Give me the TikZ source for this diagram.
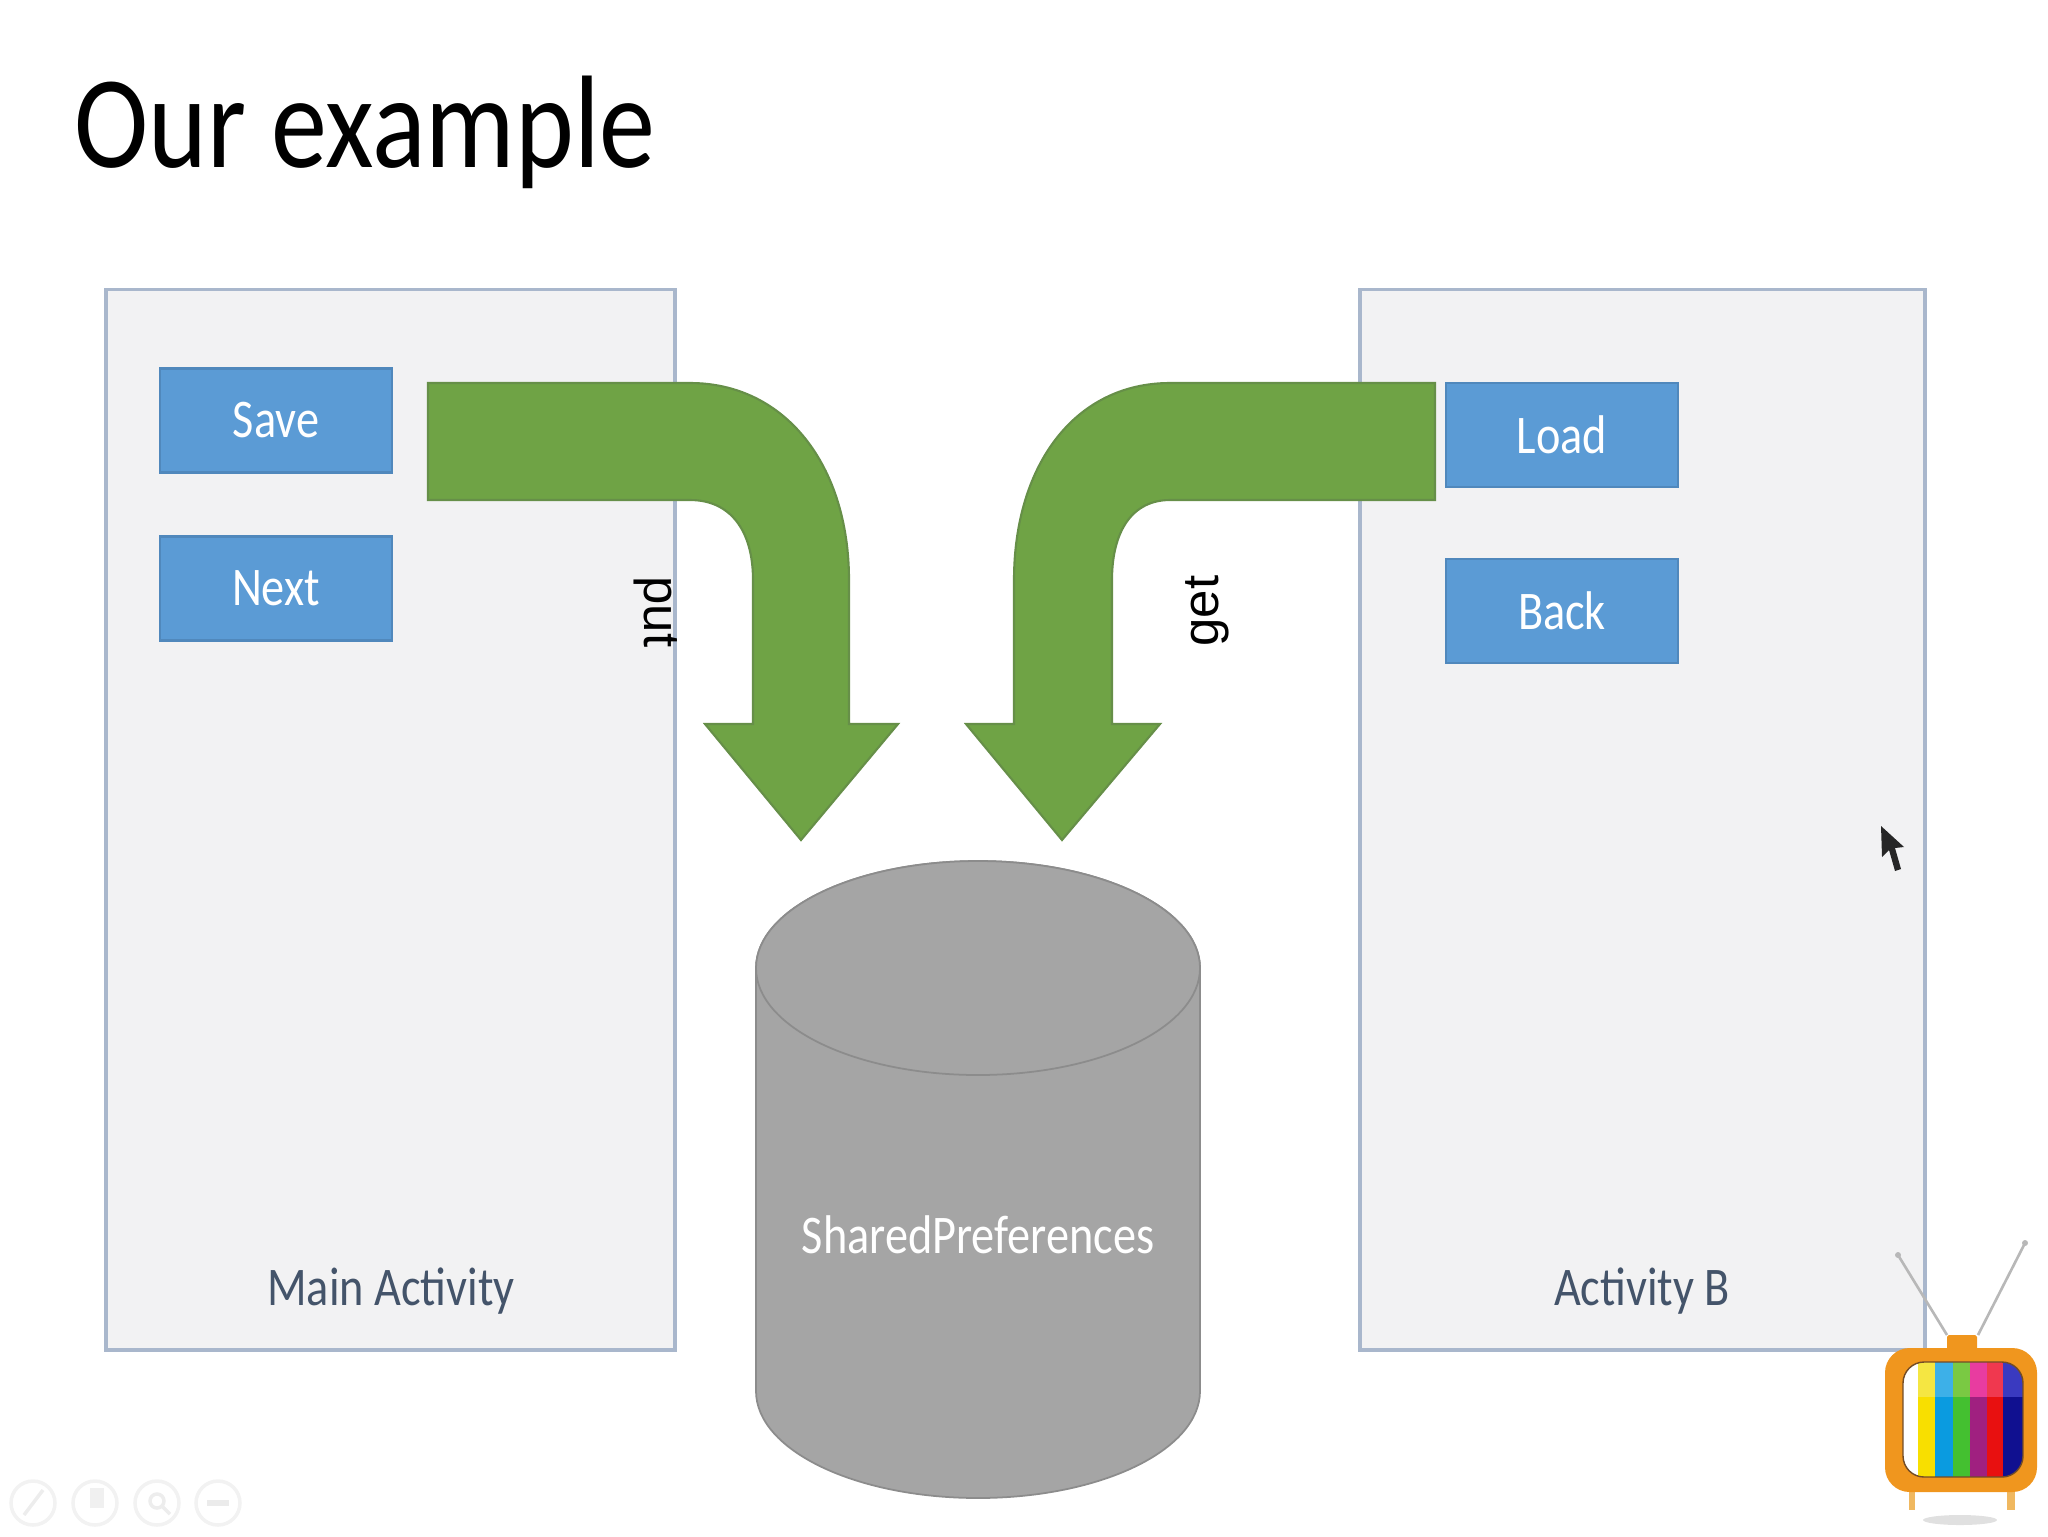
\documentclass[tikz,border=0pt]{standalone}
\usepackage{fontspec}
\setmainfont{Carlito}
\newfontfamily\labelfont{Liberation Sans}
\newcommand{\narrowed}[1]{\scalebox{.85}[1]{#1}}
\definecolor{panelfill}{HTML}{F2F2F3}
\definecolor{panelline}{HTML}{A9B7CC}
\definecolor{btnfill}{HTML}{5B9BD5}
\definecolor{btnline}{HTML}{5088BC}
\definecolor{arrowgreen}{HTML}{6FA345}
\definecolor{arrowline}{HTML}{668F48}
\definecolor{dbfill}{HTML}{A5A5A5}
\definecolor{dbline}{HTML}{8C8C8C}
\definecolor{captext}{HTML}{44546A}
\definecolor{tvorange}{HTML}{F0961E}
\definecolor{tvlegs}{HTML}{F0B860}
\tikzset{
  panel/.style={draw=panelline,fill=panelfill,line width=1.8pt,minimum height=21.22cm},
  btn/.style={draw=btnline,fill=btnfill,line width=1.2pt,minimum width=4.64cm,minimum height=2.08cm,
    text=white,font=\fontsize{31}{34}\selectfont},
  captiontext/.style={text=captext,font=\fontsize{31}{34}\selectfont},
  bigarrow/.style={fill=arrowgreen,draw=arrowline,line width=1.2pt},
  rotlabel/.style={font=\fontsize{29}{32}\selectfont\labelfont,text=black},
  toolring/.style={draw=black!5,line width=2pt},
}
\begin{document}
\begin{tikzpicture}[x=0.02cm,y=-0.02cm]
\useasboundingbox (0,0) rectangle (2048,1536);
\node[font=\fontsize{75}{80}\selectfont,text=black,anchor=base west,inner sep=0pt] (title) at (74,167) {\narrowed{Our example}};
% activities
\node[panel,minimum width=11.38cm] (mainpanel) at (390.5,819.5) {};
\node[panel,minimum width=11.3cm] (bpanel) at (1642.5,819.5) {};
\node[captiontext] (maincap) at (391,1291) {\narrowed{Main Activity}};
\node[captiontext] (bcap) at (1642,1291) {\narrowed{Activity B}};
\node[btn] (save) at (276,420.5) {\raisebox{-3pt}{\narrowed{Save}}};
\node[btn] (next) at (276,588.5) {\raisebox{-2pt}{\narrowed{Next}}};
\node[btn] (load) at (1562,435) {\raisebox{-2pt}{\narrowed{Load}}};
\node[btn] (back) at (1562,611) {\raisebox{-2pt}{\narrowed{Back}}};
% arrows
\draw[bigarrow] (428,383) -- (690,383) .. controls (785,383) and (849,465) .. (849,580)
  -- (849,724) -- (898,724) -- (801,840) -- (705,724) -- (753,724) -- (753,580)
  .. controls (753,530) and (730,500) .. (690,500) -- (428,500) -- cycle;
\draw[bigarrow] (1435,383) -- (1170,383) .. controls (1075,383) and (1014,465) .. (1014,580)
  -- (1014,724) -- (966,724) -- (1062,840) -- (1160,724) -- (1112,724) -- (1112,580)
  .. controls (1112,530) and (1133,500) .. (1170,500) -- (1435,500) -- cycle;
\node[rotlabel,rotate=-90] (putlabel) at (656,612) {put};
\node[rotlabel,rotate=90] (getlabel) at (1207,611) {get};
% cylinder
\draw[fill=dbfill,draw=dbline,line width=1pt] (756,968) arc[start angle=180,end angle=360,x radius=222,y radius=107]
  -- (1200,1391) arc[start angle=0,end angle=180,x radius=222,y radius=107] -- cycle;
\draw[fill=dbfill,draw=dbline,line width=1pt] (978,968) ellipse (222 and 107);
\node[text=white,font=\fontsize{31}{34}\selectfont] (prefs) at (978,1235) {\narrowed{SharedPreferences}};
% cursor
\fill[black!85] (1881,826) -- (1882,857) -- (1889,850) -- (1895,871) -- (1901,869) -- (1895,848) -- (1904,847) -- cycle;
% tv
\draw[black!28,line width=1.5pt] (1947,1335) -- (1898,1255);
\draw[black!28,line width=1.5pt] (1978,1335) -- (2025,1243);
\fill[black!28] (1898,1255) circle (3) (2025,1243) circle (3);
\fill[tvorange,rounded corners=1pt] (1947,1335) rectangle (1977,1350);
\fill[tvlegs] (1909,1488) rectangle (1915,1510);
\fill[tvlegs] (2007,1488) rectangle (2015,1510);
\fill[black!12] (1960,1520) ellipse (37 and 5);
\fill[rounded corners=14pt,fill=tvorange] (1885,1348) rectangle (2037,1492);
\begin{scope}
\clip[rounded corners=12pt] (1903,1362) rectangle (2023,1477);
\foreach \xa/\xb/\cola/\colb in {1903/1918/FFFFFF/FFFFFF,1918/1935/F5E642/F8DF00,
  1935/1953/3DB0E8/0A9BE0,1953/1970/7AC943/44C030,1970/1987/E83CA0/A02080,
  1987/2003/F0384F/E81010,2003/2023/3A3AC0/101090}{
  \definecolor{topstripe}{HTML}{\cola}
  \definecolor{lowstripe}{HTML}{\colb}
  \fill[topstripe] (\xa,1362) rectangle (\xb,1397);
  \fill[lowstripe] (\xa,1397) rectangle (\xb,1477);
}
\end{scope}
\draw[brown!60!black,line width=.8pt,rounded corners=12pt] (1903,1362) rectangle (2023,1477);
% toolbar
\foreach \cx in {33,95,157,218}{\draw[toolring] (\cx,1503) circle (22);}
\draw[black!7,line width=2pt] (24,1515) -- (43,1490);
\fill[black!6] (90,1488) rectangle (104,1508);
\draw[black!7,line width=2pt] (157,1501) circle (7) (162,1506) -- (170,1514);
\fill[black!8] (207,1500) rectangle (229,1506);
\end{tikzpicture}
\end{document}
